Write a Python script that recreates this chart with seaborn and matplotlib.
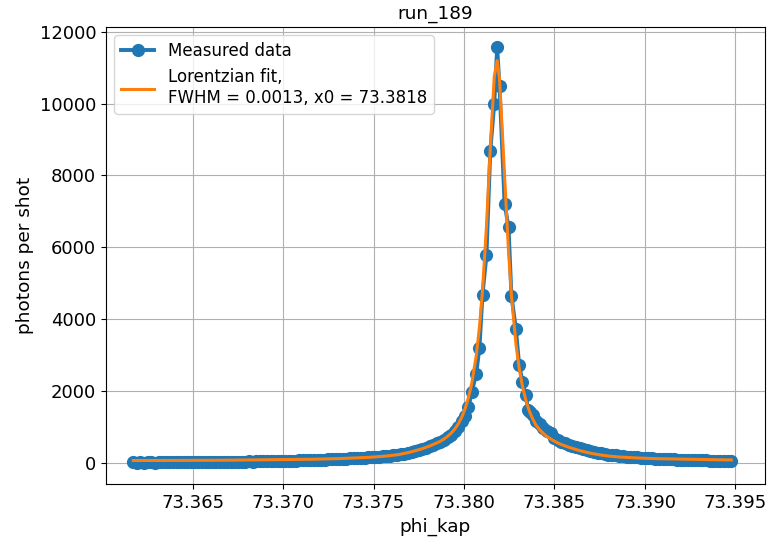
import matplotlib
matplotlib.use("Agg")
import matplotlib.pyplot as plt
import seaborn as sns
import pandas as pd

# ---- data ----
x_left = [
    73.3617, 73.3619, 73.3621, 73.3623, 73.3625, 73.3627, 73.3629, 73.3631, 73.3633, 73.3635,
    73.3637, 73.3639, 73.3641, 73.3643, 73.3645, 73.3647, 73.3649, 73.3651, 73.3653, 73.3655,
    73.3657, 73.3659, 73.3661, 73.3663, 73.3665, 73.3667, 73.3669, 73.3671, 73.3673, 73.3675,
    73.3677, 73.3679, 73.3681, 73.3683, 73.3685, 73.3687, 73.3689, 73.3691, 73.3693, 73.3695,
    73.3697, 73.3699, 73.3701, 73.3703, 73.3705, 73.3707, 73.3709, 73.3711, 73.3713, 73.3715,
    73.3717, 73.3719, 73.3721, 73.3723, 73.3725, 73.3727, 73.3729, 73.3731, 73.3733, 73.3735,
    73.3737, 73.3739, 73.3741, 73.3743, 73.3745, 73.3747, 73.3749, 73.3751, 73.3753, 73.3755,
    73.3757, 73.3759, 73.3761, 73.3763, 73.3765, 73.3767, 73.3769, 73.3771, 73.3773, 73.3775,
    73.3777, 73.3779, 73.3781, 73.3783, 73.3785, 73.3787, 73.3789, 73.3791, 73.3793, 73.3795,
    73.3797, 73.3799,
]
x_peak = [
    73.38007, 73.38025, 73.38044, 73.38068, 73.38086, 73.38103, 73.38125, 73.38146, 73.38168,
    73.38184, 73.38197, 73.38225, 73.38247, 73.38263, 73.38288, 73.38306, 73.38324, 73.38341,
    73.38356, 73.38367, 73.38382,
]
x_right = [
    73.3840, 73.3842, 73.3844, 73.3846, 73.3848, 73.3850, 73.3852, 73.3854, 73.3856, 73.3858,
    73.3860, 73.3862, 73.3864, 73.3866, 73.3868, 73.3870, 73.3872, 73.3874, 73.3876, 73.3878,
    73.3880, 73.3882, 73.3884, 73.3886, 73.3888, 73.3890, 73.3892, 73.3894, 73.3896, 73.3898,
    73.3900, 73.3902, 73.3904, 73.3906, 73.3908, 73.3910, 73.3912, 73.3914, 73.3916, 73.3918,
    73.3920, 73.3922, 73.3924, 73.3926, 73.3928, 73.3930, 73.3932, 73.3934, 73.3936, 73.3938,
    73.3940, 73.3942, 73.3944, 73.3946, 73.3948,
]

measured_left = [
    22, 18, 25, 20, 27, 22, 19, 26, 23, 29,
    24, 21, 28, 25, 31, 27, 24, 30, 34, 29,
    33, 37, 31, 36, 40, 35, 42, 39, 45, 41,
    48, 44, 51, 47, 54, 50, 57, 55, 61, 58,
    65, 62, 69, 67, 73, 71, 78, 77, 84, 83,
    90, 89, 97, 97, 104, 105, 113, 115, 123, 126,
    134, 138, 145, 149, 156, 160, 170, 173, 184, 189,
    201, 207, 222, 232, 251, 266, 293, 311, 340, 366,
    398, 428, 467, 505, 551, 596, 650, 718, 795, 890,
    1010, 1170,
]
measured_peak = [
    1310, 1560, 1990, 2480, 3210, 4690, 5790, 8680, 10000,
    11560, 10480, 7220, 6560, 4660, 3720, 2720, 2270, 1900,
    1490, 1420, 1350,
]
measured_right = [
    1170, 1080, 990, 900, 830, 700, 640, 595, 555, 515,
    480, 448, 418, 390, 362, 338, 315, 295, 276, 258,
    242, 228, 215, 204, 194, 184, 175, 167, 160, 152,
    146, 140, 133, 128, 122, 118, 113, 108, 104, 101,
    97, 93, 90, 88, 85, 82, 80, 77, 75, 73,
    71, 69, 67, 66, 64,
]

fit_left = [
    75, 75, 75, 76, 76, 76, 76, 77, 77, 77,
    78, 78, 78, 79, 79, 80, 80, 80, 81, 81,
    82, 82, 83, 83, 84, 84, 85, 86, 86, 87,
    88, 89, 89, 90, 91, 92, 93, 94, 95, 96,
    97, 98, 99, 101, 102, 104, 105, 107, 108, 110,
    112, 114, 116, 119, 121, 124, 126, 129, 133, 136,
    140, 144, 148, 152, 157, 163, 169, 175, 183, 191,
    200, 210, 222, 236, 252, 272, 295, 318, 345, 375,
    405, 440, 478, 520, 565, 613, 675, 750, 840, 955,
    1105, 1304,
]
fit_peak = [
    1523, 1822, 2238, 2985, 3784, 4803, 6605, 8763, 10749,
    11192, 10685, 8020, 5883, 4667, 3310, 2638, 2140, 1785,
    1538, 1388, 1216,
]
fit_right = [
    1050, 925, 825, 740, 675, 615, 562, 518, 480, 445,
    412, 382, 352, 326, 302, 280, 260, 242, 227, 213,
    200, 190, 181, 173, 167, 161, 156, 151, 146, 142,
    138, 135, 132, 128, 126, 123, 120, 118, 116, 113,
    111, 110, 108, 106, 105, 103, 102, 100, 99, 98,
    97, 96, 94, 93, 92,
]

x_ticks = [73.365, 73.370, 73.375, 73.380, 73.385, 73.390, 73.395]
y_ticks = [0, 2000, 4000, 6000, 8000, 10000, 12000]

title = "run_189"
x_label = "phi_kap"
y_label = "photons per shot"
label_measured = "Measured data"
label_fit = "Lorentzian fit,\nFWHM = 0.0013, x0 = 73.3818"

# ---- build table ----
phi = x_left + x_peak + x_right
df = pd.DataFrame({
    "phi": phi,
    "measured": measured_left + measured_peak + measured_right,
    "fit": fit_left + fit_peak + fit_right,
})

plt.rcParams["font.family"] = ["DejaVu Sans"]
fs = 13

fig = plt.figure(figsize=(7.68, 5.39), dpi=100)
ax = fig.add_axes([0.138, 0.102, 0.858, 0.848])

sns.lineplot(data=df, x="phi", y="measured", ax=ax, color="#1f77b4",
             marker="o", markersize=9.5, markeredgewidth=0, linewidth=2.8,
             estimator=None, sort=False, label=label_measured)
sns.lineplot(data=df, x="phi", y="fit", ax=ax, color="#ff7f0e",
             linewidth=2.2, estimator=None, sort=False, label=label_fit)

ax.set_xlim(73.36019, 73.39666)
ax.set_ylim(-578, 12128)
ax.set_xticks(x_ticks)
ax.set_yticks(y_ticks)
ax.xaxis.set_major_formatter(matplotlib.ticker.FormatStrFormatter("%.3f"))
ax.tick_params(labelsize=fs)
ax.grid(True, color="#b0b0b0", linewidth=0.8)
ax.set_axisbelow(True)
ax.set_xlabel(x_label, fontsize=13.3)
ax.set_ylabel(y_label, fontsize=13.3)
ax.set_title(title, fontsize=13.3)
ax.legend(loc="upper left", fontsize=12)

fig.savefig("out.png", dpi=100)
